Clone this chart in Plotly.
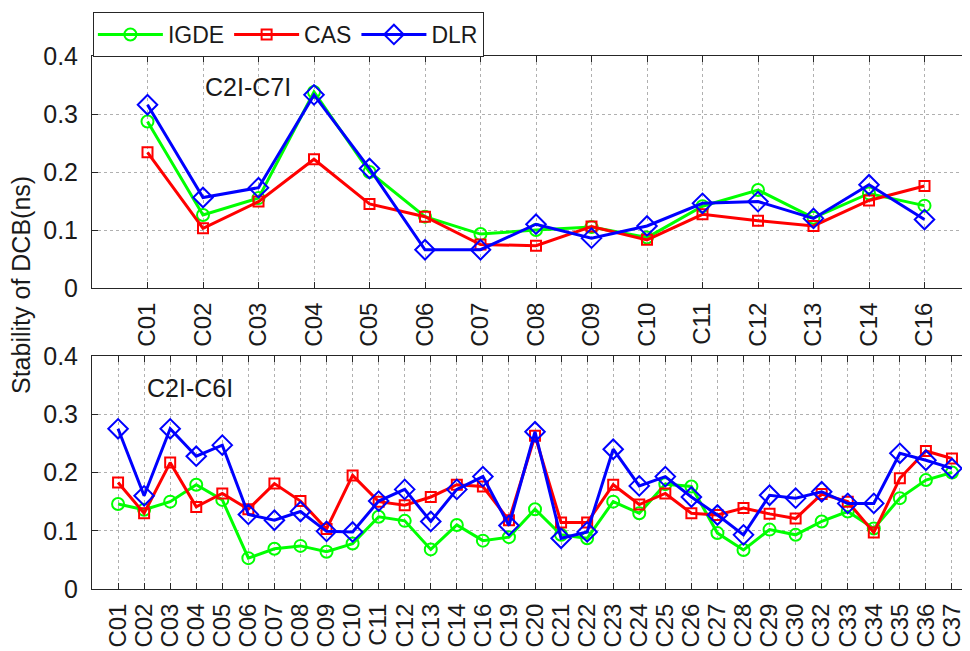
import plotly.graph_objects as go

# ---- data ----
cats_top = ["C01", "C02", "C03", "C04", "C05", "C06", "C07", "C08", "C09", "C10",
            "C11", "C12", "C13", "C14", "C16"]
igde_top = [0.287, 0.126, 0.155, 0.338, 0.200, 0.123, 0.093, 0.100, 0.105, 0.087,
            0.141, 0.169, 0.121, 0.163, 0.142]
cas_top = [0.234, 0.103, 0.149, 0.222, 0.145, 0.123, 0.075, 0.073, 0.106, 0.083,
           0.127, 0.116, 0.107, 0.151, 0.176]
dlr_top = [0.316, 0.156, 0.173, 0.333, 0.206, 0.066, 0.066, 0.110, 0.086, 0.107,
           0.146, 0.149, 0.120, 0.178, 0.118]

cats_bot = ["C01", "C02", "C03", "C04", "C05", "C06", "C07", "C08", "C09", "C10",
            "C11", "C12", "C13", "C14", "C16", "C19", "C20", "C21", "C22", "C23",
            "C24", "C25", "C26", "C27", "C28", "C29", "C30", "C32", "C33", "C34",
            "C35", "C36", "C37"]
igde_bot = [0.146, 0.136, 0.150, 0.179, 0.153, 0.053, 0.069, 0.074, 0.064, 0.078,
            0.124, 0.117, 0.068, 0.110, 0.083, 0.089, 0.137, 0.093, 0.087, 0.150,
            0.130, 0.180, 0.176, 0.096, 0.067, 0.102, 0.093, 0.116, 0.133, 0.104,
            0.156, 0.187, 0.200]
cas_bot = [0.183, 0.130, 0.217, 0.141, 0.164, 0.137, 0.181, 0.151, 0.103, 0.195,
           0.150, 0.144, 0.158, 0.179, 0.176, 0.118, 0.263, 0.114, 0.114, 0.179,
           0.145, 0.164, 0.130, 0.127, 0.139, 0.129, 0.121, 0.163, 0.150, 0.097,
           0.190, 0.237, 0.224]
dlr_bot = [0.275, 0.160, 0.275, 0.228, 0.247, 0.128, 0.118, 0.133, 0.099, 0.098,
           0.151, 0.171, 0.116, 0.171, 0.193, 0.109, 0.270, 0.087, 0.098, 0.240,
           0.177, 0.193, 0.158, 0.127, 0.093, 0.161, 0.156, 0.167, 0.147, 0.147,
           0.233, 0.221, 0.207]

y_ticks = [0, 0.1, 0.2, 0.3, 0.4]
y_ticktext = ["0", "0.1", "0.2", "0.3", "0.4"]

series = [
    ("IGDE", "#00FF00", "circle-open", igde_top, igde_bot, 12),
    ("CAS", "#FF0000", "square-open", cas_top, cas_bot, 10),
    ("DLR", "#0000FF", "diamond-open", dlr_top, dlr_bot, 15),
]

FONT = "Liberation Sans, Arial, sans-serif"
TXT = "#1a1a1a"

fig = go.Figure()
for name, color, sym, top, bot, msize in series:
    fig.add_trace(go.Scatter(
        x=cats_top, y=top, name=name, mode="lines+markers",
        line=dict(color=color, width=3),
        marker=dict(symbol=sym, size=msize, color=color, line=dict(color=color, width=2)),
        xaxis="x", yaxis="y", legendgroup=name))
for name, color, sym, top, bot, msize in series:
    fig.add_trace(go.Scatter(
        x=cats_bot, y=bot, name=name, mode="lines+markers", showlegend=False,
        line=dict(color=color, width=3),
        marker=dict(symbol=sym, size=msize, color=color, line=dict(color=color, width=2)),
        xaxis="x2", yaxis="y2", legendgroup=name))

axis_common = dict(
    showline=True, linecolor="#262626", linewidth=1, mirror="ticks",
    ticks="inside", ticklen=6, tickcolor="#262626",
    showgrid=True, gridcolor="#b0b0b0", griddash="dot", gridwidth=1,
    zeroline=False, tickfont=dict(family=FONT, size=25, color=TXT),
)

# the page body adds an 8px offset; plot area spans screen x 92..978, y 56..589
plot_w = 886
plot_h = 533
top_range = [-1, plot_w / 55.5 - 1]
bot_range = [-1, plot_w / 26.06 - 1]

fig.update_layout(
    width=970, height=651,
    margin=dict(l=84, r=0, t=48, b=70),
    paper_bgcolor="white", plot_bgcolor="white",
    font=dict(family=FONT, color=TXT),
    xaxis=dict(axis_common, type="category", range=top_range, anchor="y",
               tickmode="array", tickvals=cats_top, ticktext=cats_top,
               tickangle=-90, tickfont=dict(family=FONT, size=24, color=TXT),
               ticklabelstandoff=4),
    yaxis=dict(axis_common, domain=[0.5647, 1.0], range=[0, 0.4], anchor="x",
               tickvals=y_ticks, ticktext=y_ticktext, ticklabelstandoff=8),
    xaxis2=dict(axis_common, type="category", range=bot_range, anchor="y2",
                tickmode="array", tickvals=cats_bot, ticktext=cats_bot,
                tickangle=-90, tickfont=dict(family=FONT, size=24, color=TXT),
                ticklabelstandoff=4),
    yaxis2=dict(axis_common, domain=[0.0, 0.4371], range=[0, 0.4], anchor="x2",
                tickvals=y_ticks, ticktext=y_ticktext, ticklabelstandoff=8),
    legend=dict(
        orientation="h", x=0.001, y=(589 - 12) / plot_h, xanchor="left", yanchor="top",
        bordercolor="#262626", borderwidth=1, bgcolor="white",
        font=dict(family=FONT, size=23, color=TXT),
        itemwidth=65, tracegroupgap=0,
    ),
    showlegend=True,
)

fig.add_annotation(text="C2I-C7I", xref="paper", yref="paper",
                   x=(248 - 92) / plot_w, y=(589 - 87) / plot_h,
                   xanchor="center", yanchor="middle",
                   showarrow=False, font=dict(family=FONT, size=25, color=TXT))
fig.add_annotation(text="C2I-C6I", xref="paper", yref="paper",
                   x=(190 - 92) / plot_w, y=(589 - 388) / plot_h,
                   xanchor="center", yanchor="middle",
                   showarrow=False, font=dict(family=FONT, size=25, color=TXT))
fig.add_annotation(text="Stability of DCB(ns)", xref="paper", yref="paper",
                   x=(21 - 92) / plot_w, y=(589 - 285) / plot_h, textangle=-90,
                   xanchor="center", yanchor="middle",
                   showarrow=False, font=dict(family=FONT, size=25, color=TXT))

fig.write_html("out.html")
